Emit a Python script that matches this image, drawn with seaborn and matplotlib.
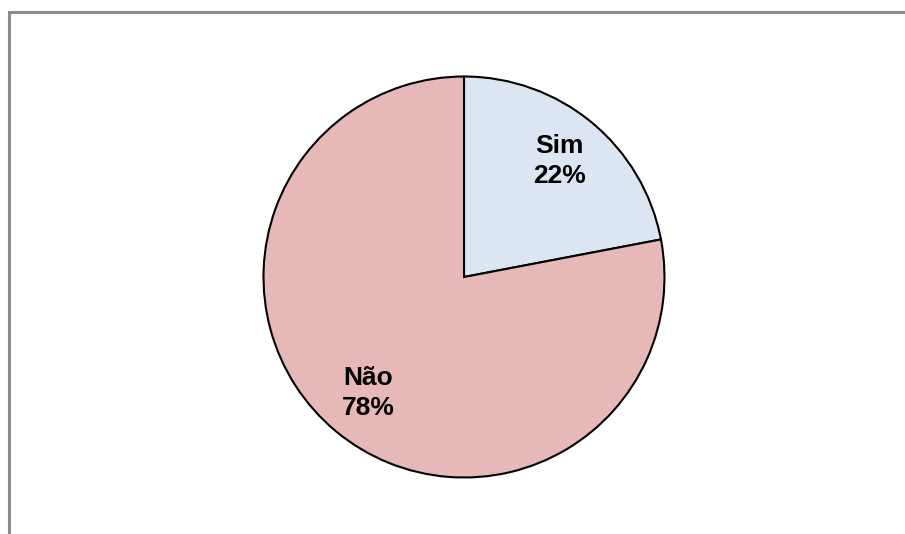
import matplotlib
matplotlib.use("Agg")
import matplotlib.pyplot as plt
from matplotlib.patches import Rectangle
import seaborn as sns

# Survey answers and their shares (percent)
categories = ["Sim", "Não"]
shares = [22, 78]
slice_colors = ["#DCE6F2", "#E6B8B7"]

sns.set_theme(style="white")
plt.rcParams["font.family"] = ["Liberation Sans", "DejaVu Sans"]

W, H = 905, 534
fig = plt.figure(figsize=(W / 100, H / 100), dpi=100)
fig.patch.set_facecolor("white")

# Gray frame open to the right and bottom edges
frame = Rectangle((8.5 / W, -0.1), 1.2, (H - 12.5) / H + 0.1,
                  transform=fig.transFigure, fill=False,
                  edgecolor="#8C8C8C", linewidth=2.2, zorder=0)
fig.patches.append(frame)

cx, cy, r = 464, 277, 202.5
ax = fig.add_axes([(cx - r) / W, (H - cy - r) / H, 2 * r / W, 2 * r / H])

labels = [f"{c}\n{v}%" for c, v in zip(categories, shares)]
wedges, texts = ax.pie(
    shares,
    labels=labels,
    colors=slice_colors,
    startangle=90,
    counterclock=False,
    radius=1,
    labeldistance=0.75,
    wedgeprops=dict(edgecolor="black", linewidth=1.5),
    textprops=dict(fontsize=19, fontweight="bold", color="black",
                   ha="center", va="center", linespacing=1.3),
)
for t in texts:
    t.set_horizontalalignment("center")
ax.set_xlim(-1.01, 1.01)
ax.set_ylim(-1.01, 1.01)
ax.set_aspect("equal")
ax.axis("off")

fig.savefig("out.png", dpi=100, facecolor="white")
